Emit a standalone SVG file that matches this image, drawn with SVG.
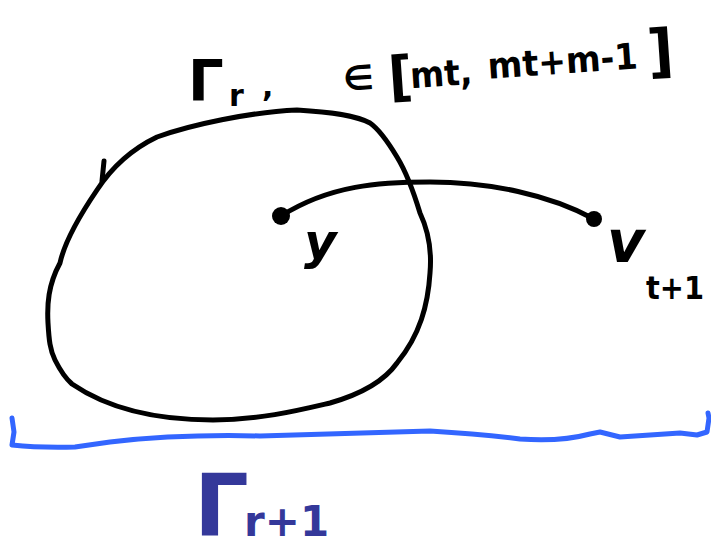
<svg xmlns="http://www.w3.org/2000/svg" width="711" height="556" viewBox="0 0 711 556">
<style>
.ink{fill:none;stroke:#000;stroke-width:5;stroke-linecap:round;stroke-linejoin:round}
.blue{fill:none;stroke:#3366ff;stroke-width:5;stroke-linecap:round;stroke-linejoin:round}
.t{font-family:"DejaVu Sans","Liberation Sans",sans-serif;fill:#000;font-weight:bold}
.tb{font-family:"DejaVu Sans","Liberation Sans",sans-serif;fill:#34389a;font-weight:bold}
</style>
<rect width="711" height="556" fill="#fff"/>
<g id="region-gamma-r">
<path class="ink" d="M297,110 C250,112 190,125 157,137 C130,150 110,170 97,190 C80,215 65,240 60,263 C48,285 47,305 48,323 C49,340 50,350 55,360 C60,370 65,378 72,384 C110,410 160,420 213,420 C260,420 300,410 330,403 C365,393 385,380 397,363 C420,335 428,305 430,273 C432,250 428,230 420,213 C413,190 405,170 397,157 C388,142 380,130 370,123 C355,115 330,112 297,110 Z"/>
<path class="ink" d="M104,161 L102,181"/>
</g>
<g id="node-y">
<circle cx="281" cy="216" r="9" fill="#000"/>
<text class="t" x="304" y="259" font-size="50" font-style="italic">y</text>
</g>
<g id="node-v">
<circle cx="594" cy="219" r="8" fill="#000"/>
<text class="t" x="607" y="262" font-size="58" font-style="italic">v</text>
<text class="t" x="646" y="299" font-size="32" textLength="58" lengthAdjust="spacingAndGlyphs">t+1</text>
</g>
<g id="connectors">
<path class="ink" d="M281,216 C330,185 380,182 430,182 C490,182 550,195 594,219"/>
</g>
<g id="label-top">
<text class="t" x="188" y="101" font-size="56">Γ</text>
<text class="t" x="229" y="106" font-size="30">r</text>
<text class="t" x="262" y="97" font-size="30">,</text>
<g transform="rotate(-4 500 70)">
<text class="t" x="343" y="80" font-size="34">∈</text>
<text class="t" x="388" y="88" font-size="54" font-weight="normal">[</text>
<text class="t" x="410" y="82" font-size="36" textLength="62" lengthAdjust="spacingAndGlyphs">mt,</text>
<text class="t" x="488" y="78" font-size="36" textLength="150" lengthAdjust="spacingAndGlyphs">mt+m-1</text>
<text class="t" x="648" y="82" font-size="58" font-weight="normal">]</text>
</g>
</g>
<g id="bracket-gamma-r1">
<path class="blue" d="M12,418 L14,432 L12,445 Q40,448 75,447 L110,442 Q180,434 260,436 Q330,434 430,431 Q480,434 520,439 Q560,442 590,434 L600,432 L620,437 L680,433 L697,435 L707,432 L709,418 L708,413"/>
<text class="tb" x="194" y="535" font-size="86">Γ</text>
<text class="tb" x="244" y="536" font-size="42">r+1</text>
</g>
</svg>
